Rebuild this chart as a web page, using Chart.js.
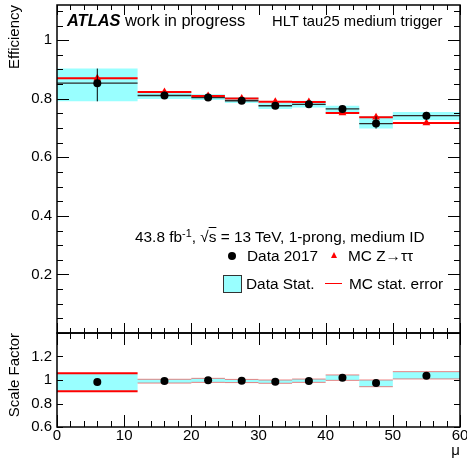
<!DOCTYPE html>
<html>
<head>
<meta charset="utf-8">
<script src="https://cdn.jsdelivr.net/npm/chart.js@4/dist/chart.umd.min.js"></script>
<style>
  body { margin: 0; background: #fff; }
  #wrap { position: relative; width: 467px; height: 462px; font-family: 'Liberation Sans', Arial, sans-serif; color: #000; }
  canvas { position: absolute; left: 0; top: 0; }
  .txt { position: absolute; white-space: nowrap; line-height: 1; }
  .sym { position: absolute; }
</style>
</head>
<body>
<div id="wrap">
  <canvas id="ratio" width="467" height="462"></canvas>
  <canvas id="main" width="467" height="462"></canvas>

  <div class="txt" style="left:67px; top:12.3px; font-size:16.4px;"><b><i>ATLAS</i></b> work in progress</div>
  <div class="txt" style="left:272px; top:13.6px; font-size:14.8px;">HLT tau25 medium trigger</div>

  <div class="txt" style="left:135px; top:228.8px; font-size:15.4px;">43.8 fb<span style="position:relative; top:-0.45em; font-size:0.7em;">-1</span>, √<span style="text-decoration:overline;">s</span> = 13 TeV, 1-prong, medium ID</div>

  <span class="sym" style="left:228px; top:251.5px; width:8px; height:8px; border-radius:50%; background:#000;"></span>
  <div class="txt" style="left:247px; top:248px; font-size:15.4px;">Data 2017</div>
  <span class="sym" style="left:330.5px; top:252px; width:0; height:0; border-left:3.5px solid transparent; border-right:3.5px solid transparent; border-bottom:6px solid #f00;"></span>
  <div class="txt" style="left:348px; top:248px; font-size:15.4px;">MC Z→ττ</div>

  <span class="sym" style="left:223px; top:275px; width:17px; height:16px; border:1px solid #333; background:rgb(153,255,255);"></span>
  <div class="txt" style="left:246px; top:276.3px; font-size:15.4px;">Data Stat.</div>
  <span class="sym" style="left:325px; top:283px; width:17px; height:1px; background:#f00;"></span>
  <div class="txt" style="left:349px; top:276.3px; font-size:15.4px;">MC stat. error</div>
</div>

<script>
// bins in pile-up (mu)
const binEdges = [0, 12, 20, 25, 30, 35, 40, 45, 50, 60];
const binCentres = [6, 16, 22.5, 27.5, 32.5, 37.5, 42.5, 47.5, 55];

// efficiency panel
const dataEff    = [0.853, 0.811, 0.804, 0.793, 0.776, 0.781, 0.765, 0.715, 0.742];
const dataStatLo = [0.791, 0.799, 0.796, 0.785, 0.765, 0.770, 0.752, 0.698, 0.727];
const dataStatHi = [0.903, 0.824, 0.815, 0.804, 0.787, 0.793, 0.776, 0.740, 0.755];
const mcEff      = [0.870, 0.823, 0.809, 0.801, 0.790, 0.789, 0.751, 0.737, 0.717];

// scale factor panel
const scaleFactor = [0.983, 0.991, 0.997, 0.994, 0.986, 0.991, 1.020, 0.974, 1.037];
const sfStatLo    = [0.909, 0.974, 0.980, 0.978, 0.972, 0.980, 0.997, 0.943, 1.009];
const sfStatHi    = [1.051, 1.006, 1.014, 1.005, 1.000, 1.008, 1.043, 1.000, 1.071];
const sfMcLo      = [0.904, 0.974, 0.980, 0.978, 0.972, 0.980, 0.997, 0.943, 1.009];
const sfMcHi      = [1.057, 1.006, 1.014, 1.005, 1.000, 1.008, 1.043, 1.000, 1.071];

// tick labels
const xTickLabels = [0, 10, 20, 30, 40, 50, 60];
const effTickLabels = [0.2, 0.4, 0.6, 0.8, 1];
const sfTickLabels = [0.6, 0.8, 1, 1.2];

const cyan = 'rgb(153,255,255)';
Chart.defaults.font.family = "'Liberation Sans', Arial, sans-serif";

// helpers to turn the arrays into points
const steps = vals => binEdges.map((e, i) => ({ x: e, y: vals[Math.min(i, vals.length - 1)] }));
const segs = vals => vals.flatMap((v, i) => [{ x: binEdges[i], y: v }, { x: binEdges[i + 1], y: v }, { x: binEdges[i + 1], y: null }]);
const bars = (lo, hi) => binCentres.flatMap((c, i) => [{ x: c, y: lo[i] }, { x: c, y: hi[i] }, { x: c, y: null }]);
const pts = vals => binCentres.map((c, i) => ({ x: c, y: vals[i] }));
const fmt = v => String(+(+v).toFixed(2));

// ROOT style frame with inward ticks on all four sides
const rootAxes = {
  id: 'rootAxes',
  afterDatasetsDraw(chart, args, o) {
    const { ctx, chartArea: a } = chart;
    const x = chart.scales.x, y = chart.scales.y;
    ctx.save();
    ctx.strokeStyle = '#000';
    ctx.lineWidth = 1;
    ctx.beginPath();
    for (let i = 0; i <= 30; i++) {
      const px = Math.round(x.getPixelForValue(i * 2)) + 0.5;
      const len = i % 5 === 0 ? o.xMajor : o.xMajor / 2;
      ctx.moveTo(px, a.top); ctx.lineTo(px, a.top + len);
      ctx.moveTo(px, a.bottom); ctx.lineTo(px, a.bottom - len);
    }
    const nY = Math.round((y.max - y.min) / o.yStep);
    for (let i = 0; i <= nY; i++) {
      const py = Math.round(y.getPixelForValue(y.min + i * o.yStep)) + 0.5;
      const len = i % o.yEvery === 0 ? o.yMajor : o.yMajor / 2;
      ctx.moveTo(a.left, py); ctx.lineTo(a.left + len, py);
      ctx.moveTo(a.right, py); ctx.lineTo(a.right - len, py);
    }
    ctx.stroke();
    ctx.lineWidth = 1.5;
    ctx.strokeRect(a.left, a.top, a.right - a.left, a.bottom - a.top);
    ctx.restore();
  }
};

const yAxis = (min, max, labels, title) => ({
  min: min, max: max,
  afterBuildTicks: s => { s.ticks = labels.map(v => ({ value: v })); },
  afterFit: s => { s.width = 57; s.paddingTop = 0; s.paddingBottom = 0; },
  grid: { display: false, drawTicks: false },
  border: { display: false },
  ticks: { color: '#000', font: { size: 15 }, padding: 5, callback: fmt },
  title: { display: true, text: title, align: 'end', color: '#000', font: { size: 15 }, padding: { top: 6, bottom: 0 } }
});

// --- efficiency panel ---
new Chart(document.getElementById('main'), {
  type: 'line',
  data: {
    datasets: [
      { data: steps(dataStatHi), stepped: true, borderWidth: 0, borderColor: 'transparent', pointRadius: 0, fill: false, order: 6 },
      { data: steps(dataStatLo), stepped: true, borderWidth: 0, borderColor: 'transparent', pointRadius: 0, fill: '-1', backgroundColor: cyan, order: 5 },
      { data: segs(dataEff), borderColor: '#2b2b2b', borderWidth: 1.3, pointRadius: 0, fill: false, order: 4 },
      { data: segs(mcEff), borderColor: '#ff0000', borderWidth: 2, pointRadius: 0, fill: false, order: 3 },
      { data: pts(mcEff), showLine: false, pointStyle: 'triangle', pointRadius: 4.5, pointBackgroundColor: '#ff0000', pointBorderWidth: 0, order: 2 },
      { data: bars(dataStatLo, dataStatHi), borderColor: '#000', borderWidth: 1, pointRadius: 0, fill: false, order: 1 },
      { data: pts(dataEff), showLine: false, pointRadius: 4, pointBackgroundColor: '#000', pointBorderWidth: 0, order: 0 }
    ]
  },
  options: {
    responsive: false,
    animation: false,
    events: [],
    layout: { padding: { left: 0, top: 5, right: 7, bottom: 129 } },
    plugins: {
      legend: { display: false },
      tooltip: { enabled: false },
      rootAxes: { xMajor: 10, yStep: 0.05, yEvery: 4, yMajor: 12 }
    },
    scales: {
      x: { type: 'linear', min: 0, max: 60, display: false },
      y: yAxis(0, 1.12, effTickLabels, 'Efficiency')
    }
  },
  plugins: [rootAxes]
});

// --- scale factor panel ---
const redSeg = {
  borderColor: c => c.p0.parsed.x < 12 ? '#ff0000' : 'rgba(230,90,90,0.75)',
  borderWidth: c => c.p0.parsed.x < 12 ? 2 : 1
};

new Chart(document.getElementById('ratio'), {
  type: 'line',
  data: {
    datasets: [
      { data: steps(sfStatHi), stepped: true, borderWidth: 0, borderColor: 'transparent', pointRadius: 0, fill: false, order: 5 },
      { data: steps(sfStatLo), stepped: true, borderWidth: 0, borderColor: 'transparent', pointRadius: 0, fill: '-1', backgroundColor: cyan, order: 4 },
      { data: segs(sfMcHi), borderColor: '#ff0000', segment: redSeg, pointRadius: 0, fill: false, order: 3 },
      { data: segs(sfMcLo), borderColor: '#ff0000', segment: redSeg, pointRadius: 0, fill: false, order: 2 },
      { data: pts(scaleFactor), showLine: false, pointRadius: 4, pointBackgroundColor: '#000', pointBorderWidth: 0, order: 0 }
    ]
  },
  options: {
    responsive: false,
    animation: false,
    events: [],
    layout: { padding: { left: 0, top: 333, right: 7, bottom: 0 } },
    plugins: {
      legend: { display: false },
      tooltip: { enabled: false },
      rootAxes: { xMajor: 12, yStep: 0.2, yEvery: 1, yMajor: 6 }
    },
    scales: {
      x: {
        type: 'linear', min: 0, max: 60,
        afterBuildTicks: s => { s.ticks = xTickLabels.map(v => ({ value: v })); },
        afterFit: s => { s.height = 35; s.paddingLeft = 0; s.paddingRight = 0; },
        grid: { display: false, drawTicks: false },
        border: { display: false },
        ticks: { color: '#000', font: { size: 15 }, padding: 0, maxRotation: 0, autoSkip: false },
        title: { display: true, text: 'μ', align: 'end', color: '#000', font: { size: 15 }, padding: { top: 0, bottom: 2 } }
      },
      y: yAxis(0.6, 1.4, sfTickLabels, 'Scale Factor')
    }
  },
  plugins: [rootAxes]
});
</script>
</body>
</html>
